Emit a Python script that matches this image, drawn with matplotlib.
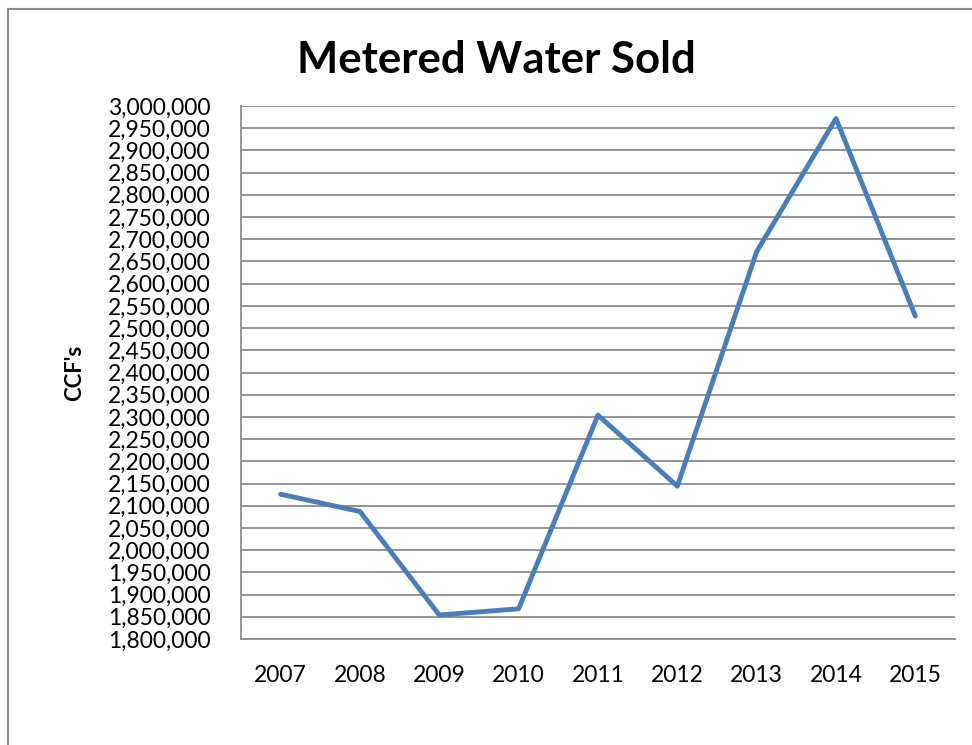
import matplotlib.pyplot as plt
from matplotlib.lines import Line2D
from matplotlib.ticker import FuncFormatter, MultipleLocator

years = ["2007", "2008", "2009", "2010", "2011", "2012", "2013", "2014", "2015"]
ccf_sold = [2126000, 2087000, 1854000, 1868000, 2304000, 2144000, 2672000, 2972000, 2527000]

plt.rcParams["font.family"] = ["Lato", "DejaVu Sans"]

fig = plt.figure(figsize=(9.72, 7.45), dpi=100)
ax = fig.add_axes([0.2479, 0.1423, 0.9825 - 0.2479, 0.8577 - 0.1423])

x = range(len(years))
ax.plot(x, ccf_sold, color="#4A7EBB", lw=3.5, solid_joinstyle="round", solid_capstyle="round")

ax.set_xlim(-0.5, len(years) - 0.5)
ax.set_ylim(1800000, 3000000)
ax.yaxis.set_major_locator(MultipleLocator(50000))
ax.yaxis.set_major_formatter(FuncFormatter(lambda v, _: f"{v:,.0f}"))
ax.set_xticks(list(x))
ax.set_xticklabels(years)

ax.grid(axis="y", color="#8c8c8c", lw=1.3)
ax.set_axisbelow(True)
ax.tick_params(length=0, labelsize=16.5, colors="black")
ax.tick_params(axis="x", pad=19)
ax.tick_params(axis="y", pad=22)
for side in ("top", "right"):
    ax.spines[side].set_visible(False)
for side in ("left", "bottom"):
    ax.spines[side].set_color("#8c8c8c")
    ax.spines[side].set_linewidth(1.3)

fig.text(0.511, 0.919, "Metered Water Sold", ha="center", va="center",
         fontsize=31.5, fontweight="bold")
fig.text(0.077, 0.50, "CCF's", ha="center", va="center", rotation=90,
         fontsize=16, fontweight="bold")

# outer chart frame (cropped at right and bottom)
fig.add_artist(Line2D([0.008, 0.008], [0.0, 0.988], color="#8c8c8c", lw=1.5,
                      transform=fig.transFigure))
fig.add_artist(Line2D([0.008, 1.0], [0.988, 0.988], color="#8c8c8c", lw=1.5,
                      transform=fig.transFigure))

fig.savefig("out.png", dpi=100)
